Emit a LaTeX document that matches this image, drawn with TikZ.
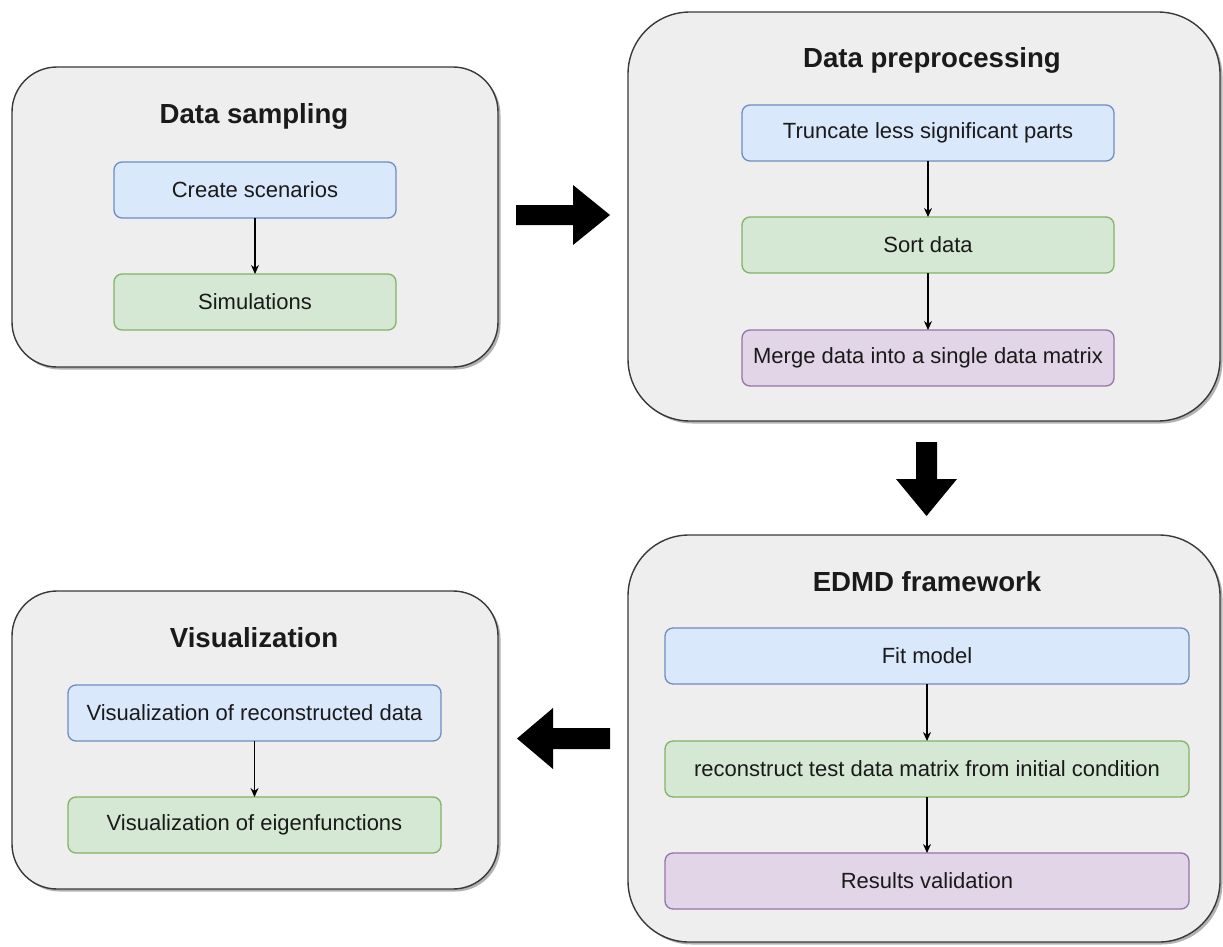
\documentclass[tikz,border=0pt]{standalone}
\usepackage{fontspec}
\setmainfont{Liberation Sans}
\usetikzlibrary{arrows.meta,shadows}
\definecolor{outerfill}{HTML}{EEEEEE}
\definecolor{outerline}{HTML}{36393D}
\definecolor{bluefill}{HTML}{DAE8FC}
\definecolor{blueline}{HTML}{6C8EBF}
\definecolor{greenfill}{HTML}{D5E8D4}
\definecolor{greenline}{HTML}{82B366}
\definecolor{purplefill}{HTML}{E1D5E7}
\definecolor{purpleline}{HTML}{9673A6}
\definecolor{txt}{HTML}{1A1A1A}
\tikzset{
  container/.style={draw=outerline, fill=outerfill, line width=1.4pt, anchor=north west,
    inner sep=0pt, outer sep=0pt,
    drop shadow={shadow xshift=2.5pt, shadow yshift=-2.5pt, fill=black, opacity=0.3}},
  title/.style={font=\fontsize{27.6}{32}\selectfont\bfseries, text=txt, inner sep=0pt},
  stepbox/.style={rectangle, rounded corners=8pt, line width=1.3pt, anchor=north west,
    inner sep=0pt, outer sep=0pt, font=\fontsize{22}{26}\selectfont, text=txt},
  steptext/.style={text=txt, font=\fontsize{22}{26}\selectfont, inner sep=0pt},
  bluebox/.style={stepbox, draw=blueline, fill=bluefill},
  greenbox/.style={stepbox, draw=greenline, fill=greenfill},
  purplebox/.style={stepbox, draw=purpleline, fill=purplefill},
  link/.style={draw=black, line width=1.2pt, -{Stealth[length=9pt,width=8pt]}},
  bigarrow/.style={fill=black, draw=none}
}
\begin{document}
\begin{tikzpicture}[x=1pt,y=-1pt]
\useasboundingbox (0,0) rectangle (1223,947);
% containers
\node[container, rounded corners=45pt, minimum width=486pt, minimum height=300pt] (c1) at (12,67) {};
\node[container, rounded corners=62pt, minimum width=592pt, minimum height=409pt] (c2) at (628,12) {};
\node[container, rounded corners=61pt, minimum width=592pt, minimum height=407pt] (c3) at (628,535) {};
\node[container, rounded corners=45pt, minimum width=486pt, minimum height=298pt] (c4) at (12,591) {};
% titles
\node[title] (t1) at (254,116) {Data sampling};
\node[title] (t2) at (932,60) {Data preprocessing};
\node[title] (t3) at (927,582) {EDMD framework};
\node[title] (t4) at (254,638) {Visualization};
% box 1
\node[bluebox, minimum width=282pt, minimum height=56pt] (b11) at (114,162) {};
\node[steptext] (b11t) at (b11.center) {Create scenarios};
\node[greenbox, minimum width=282pt, minimum height=56pt] (b12) at (114,274) {};
\node[steptext] (b12t) at (b12.center) {Simulations};
% box 2
\node[bluebox, minimum width=372pt, minimum height=56pt] (b21) at (742,105) {};
\node[steptext] (b21t) at (b21.center) {Truncate less significant parts};
\node[greenbox, minimum width=372pt, minimum height=56pt] (b22) at (742,217) {};
\node[steptext] (b22t) at (b22.center) {Sort data};
\node[purplebox, minimum width=372pt, minimum height=56pt] (b23) at (742,330) {};
\node[steptext] (b23t) at (b23.center) {Merge data into a single data matrix};
% box 3
\node[bluebox, minimum width=524pt, minimum height=56pt] (b31) at (665,628) {};
\node[steptext] (b31t) at (b31.center) {Fit model};
\node[greenbox, minimum width=524pt, minimum height=56pt] (b32) at (665,741) {};
\node[steptext] (b32t) at (b32.center) {reconstruct test data matrix from initial condition};
\node[purplebox, minimum width=524pt, minimum height=56pt] (b33) at (665,853) {};
\node[steptext] (b33t) at (b33.center) {Results validation};
% box 4
\node[bluebox, minimum width=373pt, minimum height=56pt] (b41) at (68,685) {};
\node[steptext] (b41t) at (b41.center) {Visualization of reconstructed data};
\node[greenbox, minimum width=373pt, minimum height=56pt] (b42) at (68,797) {};
\node[steptext] (b42t) at (b42.center) {Visualization of eigenfunctions};
% inner links
\draw[link] (b11.south) -- (b12.north);
\draw[link] (b21.south) -- (b22.north);
\draw[link] (b22.south) -- (b23.north);
\draw[link] (b31.south) -- (b32.north);
\draw[link] (b32.south) -- (b33.north);
\draw[link] (b41.south) -- (b42.north);
% big arrows
\coordinate (r0) at (516,215);
\coordinate (d0) at (926.5,442);
\coordinate (l0) at (610,738.5);
\fill[bigarrow] (r0) ++(0,-10) -- ++(57,0) -- ++(0,-20) -- ++(37,30) -- ++(-37,30) -- ++(0,-20) -- ++(-57,0) -- cycle;
\fill[bigarrow] (d0) ++(-10.5,0) -- ++(0,37) -- ++(-20,0) -- ++(30.5,37) -- ++(30.5,-37) -- ++(-20,0) -- ++(0,-37) -- cycle;
\fill[bigarrow] (l0) ++(0,-10.5) -- ++(-57,0) -- ++(0,-20) -- ++(-36,30.5) -- ++(36,30.5) -- ++(0,-20) -- ++(57,0) -- cycle;
\end{tikzpicture}
\end{document}
